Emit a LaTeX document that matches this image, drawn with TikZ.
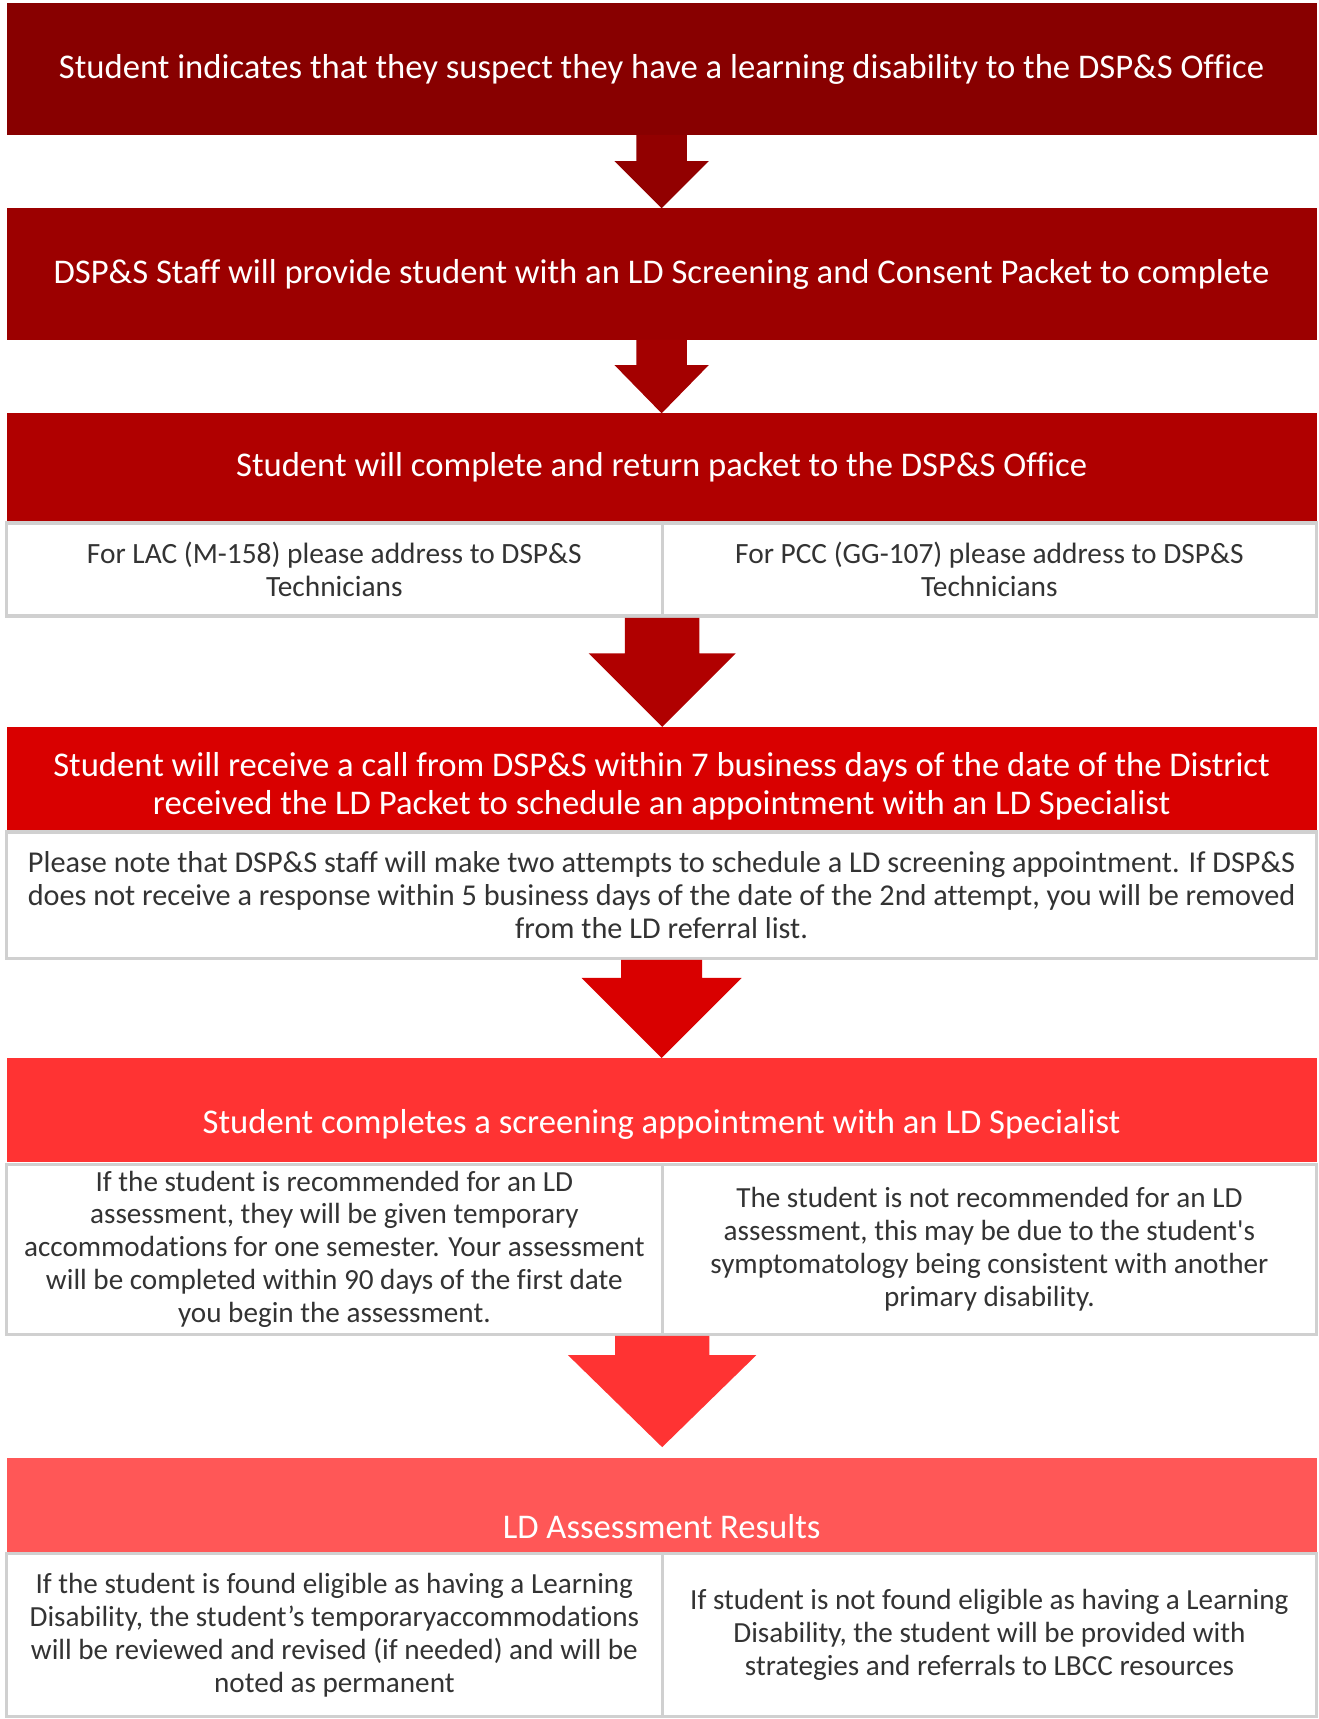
\documentclass[tikz,border=0pt]{standalone}
\usepackage{fontspec}
\newfontfamily\calibri{Carlito}[Ligatures=NoCommon]
\usetikzlibrary{calc}
\definecolor{redA}{HTML}{880000}
\definecolor{redB}{HTML}{9C0000}
\definecolor{redC}{HTML}{B00000}
\definecolor{redD}{HTML}{D90000}
\definecolor{redE}{HTML}{FF3333}
\definecolor{redF}{HTML}{FF5757}
\definecolor{cellgray}{HTML}{D0D0D0}
\def\headfont{\calibri\fontsize{31.6}{35}\selectfont}
\def\bodyfont{\calibri\fontsize{26.6}{30}\selectfont}
\def\bigbodyfont{\calibri\fontsize{27.6}{30}\selectfont}
% colour, start, tip, shaft half width, head half width, head length
\newcommand{\blockarrow}[6]{\fill[#1] let \p1=(#2), \p2=(#3) in
  (\x1-#4pt,\y1) -- (\x1+#4pt,\y1) -- (\x1+#4pt,\y2+#6pt) -- (\x1+#5pt,\y2+#6pt)
  -- (\x1,\y2) -- (\x1-#5pt,\y2+#6pt) -- (\x1-#4pt,\y2+#6pt) -- cycle;}

\begin{document}
\begin{tikzpicture}[x=1pt,y=-1pt,
  head/.style={anchor=north west,fill=#1,text=white,inner sep=0pt,outer sep=0pt,
    minimum width=1195pt,align=center,font=\headfont},
  cell/.style={anchor=north west,draw=cellgray,line width=3pt,fill=white,inner sep=0pt,
    outer sep=0pt,align=center,font=\bodyfont,text=black!80}]
\useasboundingbox (0,0) rectangle (1203,1568);

\node[head=redA,minimum height=120pt] (ask) at (6,3) {Student indicates that they suspect they have a learning disability to the DSP\&S Office};
\node[head=redB,minimum height=120pt] (packet) at (6,190) {DSP\&S Staff will provide student with an LD Screening and Consent Packet to complete};
\node[head=redC,minimum height=98pt] (return) at (6,377) {Student will complete and return packet to the DSP\&S Office};
\node[cell,font=\calibri\fontsize{26.8}{30}\selectfont,minimum width=598pt,minimum height=85pt] (lac) at (6,477) {For LAC (M-158) please address to DSP\&S\\Technicians};
\node[cell,font=\calibri\fontsize{26.8}{30}\selectfont,minimum width=597pt,minimum height=85pt] (pcc) at (604,477) {For PCC (GG-107) please address to DSP\&S\\Technicians};
\node[head=redD,minimum height=94pt] (call) at (6,663) {\rule{0pt}{36pt}Student will receive a call from DSP\&S within 7 business days of the date of the District\\received the LD Packet to schedule an appointment with an LD Specialist};
\node[cell,font=\bigbodyfont,minimum width=1195pt,minimum height=115pt] (note) at (6,759) {Please note that DSP\&S staff will make two attempts to schedule a LD screening appointment. If DSP\&S\\does not receive a response within 5 business days of the date of the 2nd attempt, you will be removed\\from the LD referral list.};
\node[head=redE,minimum height=95pt,text height=48pt] (screen) at (6,965) {Student completes a screening appointment with an LD Specialist};
\node[cell,minimum width=598pt,minimum height=155pt] (recd) at (6,1062) {If the student is recommended for an LD\\assessment, they will be given temporary\\accommodations for one semester. Your assessment\\will be completed within 90 days of the first date\\you begin the assessment.};
\node[cell,minimum width=597pt,minimum height=155pt] (notrecd) at (604,1062) {The student is not recommended for an LD\\assessment, this may be due to the student's\\symptomatology being consistent with another\\primary disability.};
\node[head=redF,minimum height=86pt,text height=60pt] (results) at (6,1330) {LD Assessment Results};
\node[cell,minimum width=598pt,minimum height=149pt] (elig) at (6,1417) {If the student is found eligible as having a Learning\\Disability, the student’s temporaryaccommodations\\will be reviewed and revised (if needed) and will be\\noted as permanent};
\node[cell,minimum width=597pt,minimum height=149pt] (notelig) at (604,1417) {If student is not found eligible as having a Learning\\Disability, the student will be provided with\\strategies and referrals to LBCC resources};

% block arrows between the steps
\blockarrow{redA!50!redB}{ask.south}{packet.north}{23}{43}{43}
\blockarrow{redB!60!redC}{packet.south}{return.north}{23}{43}{44}
\blockarrow{redC}{$(lac.south east)+(0,1.5)$}{call.north}{34}{67}{67}
\blockarrow{redD}{$(note.south)+(0,1.5)$}{screen.north}{37}{73}{73}
\blockarrow{redE}{$(recd.south east)+(0,1.5)$}{$(results.north)+(0,-10)$}{43}{86}{84}
\end{tikzpicture}
\end{document}
